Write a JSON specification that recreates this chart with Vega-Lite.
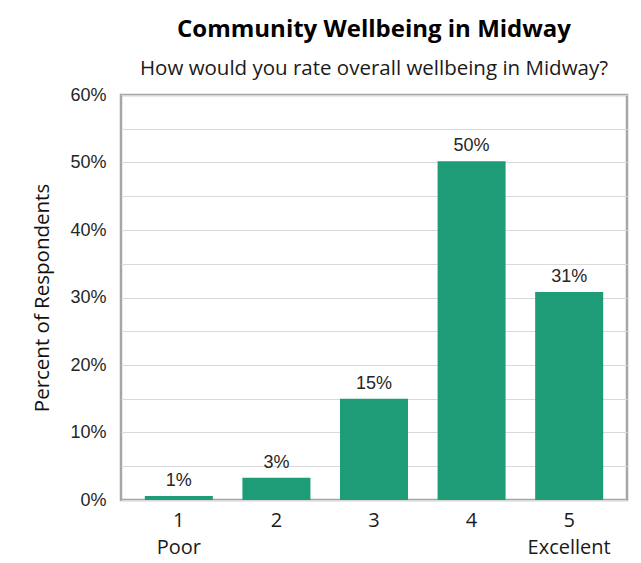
{
  "$schema": "https://vega.github.io/schema/vega-lite/v6.json",
  "autosize": {"type": "none"},
  "width": 506,
  "height": 405,
  "padding": {"left": 121, "top": 95, "right": 14, "bottom": 63},
  "background": "white",
  "title": {
    "text": "Community Wellbeing in Midway",
    "subtitle": "How would you rate overall wellbeing in Midway?",
    "anchor": "middle",
    "frame": "group",
    "font": "Open Sans",
    "fontSize": 24,
    "fontWeight": "bold",
    "color": "#000000",
    "subtitleFont": "Open Sans",
    "subtitleFontSize": 20.5,
    "subtitleColor": "#1a1a1a",
    "subtitlePadding": 17,
    "offset": 7
  },
  "config": {
    "view": {"stroke": "#a6a6a6", "strokeWidth": 2.5},
    "axis": {"gridColor": "#d9d9d9", "gridWidth": 1}
  },
  "data": {
    "values": [
      {"rating": "1|Poor", "pct": 0.006, "text": "1%"},
      {"rating": "2", "pct": 0.033, "text": "3%"},
      {"rating": "3", "pct": 0.15, "text": "15%"},
      {"rating": "4", "pct": 0.502, "text": "50%"},
      {"rating": "5|Excellent", "pct": 0.308, "text": "31%"}
    ]
  },
  "encoding": {
    "x": {
      "field": "rating",
      "type": "nominal",
      "sort": null,
      "scale": {"paddingInner": 0.303, "paddingOuter": 0.244},
      "axis": {
        "title": null,
        "labelAngle": 0,
        "labelExpr": "split(datum.value, '|')",
        "labelFont": "Open Sans",
        "labelFontSize": 20,
        "labelColor": "#1a1a1a",
        "labelLineHeight": 27,
        "labelPadding": 10,
        "labelBaseline": "top",
        "domain": false,
        "ticks": false,
        "grid": false
      }
    },
    "y": {
      "field": "pct",
      "type": "quantitative",
      "scale": {"domain": [0, 0.6], "nice": false},
      "axis": {
        "title": "Percent of Respondents",
        "titleFont": "Open Sans",
        "titleFontSize": 20.5,
        "titleFontWeight": "normal",
        "titleColor": "#111111",
        "titlePadding": 17,
        "values": [0, 0.05, 0.1, 0.15, 0.2, 0.25, 0.3, 0.35, 0.4, 0.45, 0.5, 0.55, 0.6],
        "format": ".0%",
        "labelExpr": "round(datum.value*100) % 10 == 0 ? datum.label : ''",
        "labelFont": "Liberation Sans",
        "labelFontSize": 18,
        "labelColor": "#262626",
        "labelPadding": 15,
        "domain": false,
        "ticks": false,
        "grid": true
      }
    }
  },
  "layer": [
    {"mark": {"type": "bar", "color": "#1d9c77"}},
    {
      "mark": {
        "type": "text",
        "baseline": "bottom",
        "align": "center",
        "dy": -6,
        "font": "Liberation Sans",
        "fontSize": 18,
        "color": "#262626"
      },
      "encoding": {"text": {"field": "text"}}
    }
  ]
}
